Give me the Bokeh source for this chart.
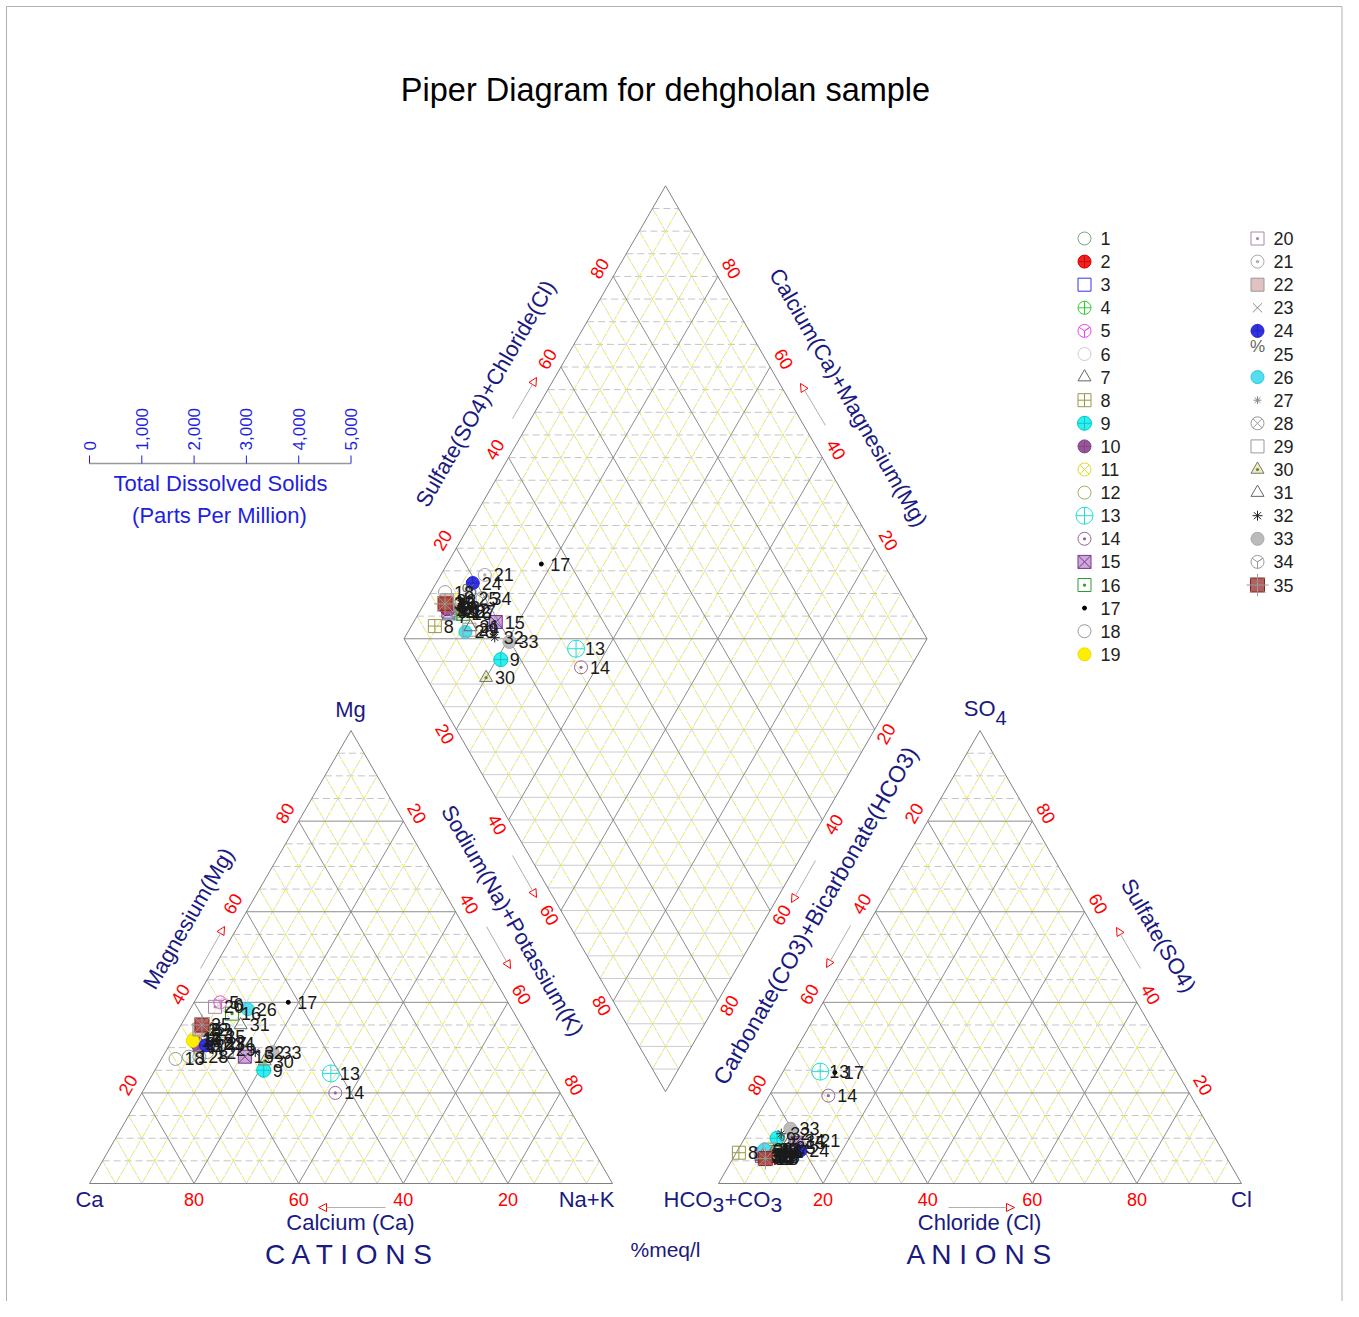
import math
from bokeh.plotting import figure
from bokeh.models import Range1d, Arrow, NormalHead, ColumnDataSource
from bokeh.core.properties import value
from bokeh.embed import file_html
from bokeh.resources import INLINE

# ---------------- data (percent meq/l) ----------------
sample_ids = [str(i) for i in range(1, 36)]
ca_pct = [67, 64, 62.5, 59.5, 55, 54.5, 64, 61.5, 54.2, 64, 64, 63, 41.7, 43, 56.3, 54, 42, 69.8,
          64.5, 56.5, 60.6, 62, 61.5, 62.5, 59.5, 50.5, 60, 65, 59, 53, 53.6, 53.8, 50.5, 58.5, 61]
mg_pct = [28, 31, 32, 33, 40, 39.5, 30, 34, 25, 30.5, 32, 29, 24.3, 20, 28, 37.5, 40, 27.5,
          31.5, 39, 31, 34, 33, 30.5, 32.5, 38.5, 31, 28, 29.5, 27, 35, 29, 29, 31, 35]
na_pct = [5, 5, 5.5, 7.5, 5, 6, 6, 4.5, 20.8, 5.5, 4, 8, 34, 37, 15.7, 8.5, 18, 2.7,
          4, 4.5, 8.4, 4, 5.5, 7, 8, 11, 9, 7, 11.5, 20, 11.4, 17.2, 20.5, 10.5, 4]
hco3_pct = [87.5, 88.5, 88.5, 87, 88, 87.5, 89, 92.7, 83.8, 88, 88, 86, 68.2, 69.3, 80.6, 86, 65.5, 87,
            88, 88, 77.5, 87.5, 87.5, 80.7, 83, 87.5, 85, 87, 86.5, 88.6, 86, 82.5, 80.2, 80.5, 88.3]
so4_pct = [6.5, 6, 6.5, 7, 7, 6, 5.5, 6.8, 10, 6, 5.5, 7.5, 24.7, 19.4, 9, 7, 24.5, 6.5,
           6, 6.5, 9.5, 6, 5.5, 7.3, 8, 7.5, 7, 6, 7.5, 6, 7, 11, 12.1, 9.5, 5.5]
cl_pct = [6, 5.5, 5, 6, 5, 6.5, 5.5, 0.5, 6.2, 6, 6.5, 6.5, 7.1, 11.3, 10.4, 7, 10, 6.5,
          6, 5.5, 13, 6.5, 7, 12, 9, 5, 8, 7, 6, 5.4, 7, 6.5, 7.7, 10, 6.2]
edge_ticks = [20, 40, 60, 80]
tds_ticks = [0, 1000, 2000, 3000, 4000, 5000]
tds_labels = ["0", "1,000", "2,000", "3,000", "4,000", "5,000"]

# ---------------- styles ----------------
mk = ["circle", "circle_cross", "square", "circle_cross", "circle_y", "circle", "triangle", "square_cross",
      "circle_cross", "circle_cross", "circle_x", "circle", "circle_cross", "circle_dot", "square_x",
      "square_dot", "circle", "circle", "circle", "square_dot", "circle_dot", "square", "x", "circle_cross",
      "circle", "circle", "asterisk", "circle_x", "square", "triangle_dot", "triangle", "asterisk", "circle",
      "circle_y", "square_x"]
lc = ["#77aa77", "#dd0000", "#3333ee", "#33cc33", "#ee44ee", "#cccccc", "#666666", "#999944", "#00cccc",
      "#884488", "#dddd33", "#aaaa66", "#22dddd", "#996699", "#773399", "#339933", "#000000", "#999999",
      "#eedd00", "#aa88aa", "#aaaaaa", "#999999", "#888888", "#2222cc", "#666666", "#22ccdd", "#888888",
      "#999999", "#999999", "#777777", "#666666", "#222222", "#aaaaaa", "#999999", "#882222"]
fc = ["white", "#ee2222", "white", "white", "white", "white", "white", "white", "#33eeee", "#995599",
      "white", "white", "white", "white", "#9955aa", "white", "#000000", "white", "#ffee00", "white",
      "white", "#cc9999", "white", "#3333dd", "white", "#55ddee", "white", "white", "white", "#dddd66",
      "white", "white", "#bbbbbb", "white", "#aa3333"]
fa = [0, 1, 0, 0, 0, 0, 0, 0, 1, 1, 0, 0, 0, 0, 0.5, 0, 1, 0, 1, 0, 0, 0.6, 0, 1, 0, 1, 0, 0, 0, 0.5,
      0, 0, 1, 0, 0.8]
sz = [13, 13, 13, 13, 13, 13, 13, 13, 14, 13, 13, 13, 17, 13, 13, 13, 4, 13, 13, 13, 13, 13, 13, 13,
      0, 13, 8, 13, 13, 13, 13, 10, 13, 13, 14]

FONT = value("Liberation Sans")
NAVY = "#1a1a80"
RED = "#ff0000"
BLUE = "#1f1fe0"

# ---------------- geometry (page pixels) ----------------
W, H = 1343, 1301
S = 523.0
HT = S * math.sqrt(3) / 2
cA, cB = (89.0, 1183.0), (612.0, 1183.0)
cC = ((cA[0] + cB[0]) / 2, 1183.0 - HT)
aA, aB = (718.0, 1183.0), (1241.0, 1183.0)
aC = ((aA[0] + aB[0]) / 2, 1183.0 - HT)
dD = ((cB[0] + aA[0]) / 2, 1183.0 - (aA[0] - cB[0]) * math.sqrt(3) / 2)
dL = (dD[0] - S / 2, dD[1] - HT)
dR = (dD[0] + S / 2, dD[1] - HT)
dT = (dD[0], dD[1] - 2 * HT)


def lerp(P, Q, t):
    return (P[0] + (Q[0] - P[0]) * t, P[1] + (Q[1] - P[1]) * t)


p = figure(width=W, height=H, output_backend="svg", toolbar_location=None,
           x_range=Range1d(0, W), y_range=Range1d(-H, 0), min_border=0)
p.axis.visible = False
p.grid.visible = False
p.outline_line_color = None
p.background_fill_color = "white"
p.line([6, 6, W - 1.5, W - 1.5], [-H, -6, -6, -H], line_color="#b0b0b0", line_width=1)

seg = {"major": ([], [], [], []), "hdash": ([], [], [], []), "hsolid": ([], [], [], []), "slant": ([], [], [], [])}


def add(kind, P, Q):
    s = seg[kind]
    s[0].append(P[0]); s[1].append(-P[1]); s[2].append(Q[0]); s[3].append(-Q[1])


def tri_grid(A, B, C):
    for k in range(5, 100, 5):
        t = k / 100
        major = k % 20 == 0
        add("major" if major else "hdash", lerp(A, C, t), lerp(B, C, t))
        add("major" if major else "slant", lerp(A, B, t), lerp(C, B, t))
        add("major" if major else "slant", lerp(B, A, t), lerp(C, A, t))


tri_grid(cA, cB, cC)
tri_grid(aA, aB, aC)
for k in range(5, 100, 5):
    t = k / 100
    major = k % 20 == 0
    add("major" if major else "slant", lerp(dL, dD, t), lerp(dT, dR, t))
    add("major" if major else "slant", lerp(dL, dT, t), lerp(dD, dR, t))
for j in range(1, 40):
    y = dT[1] + j * HT / 20
    hw = (S / 2) * (1 - abs(y - dL[1]) / HT)
    kind = "hdash" if j < 20 else ("major" if j == 20 else "hsolid")
    add(kind, (dD[0] - hw, y), (dD[0] + hw, y))

s = seg["hdash"]
p.segment(s[0], s[1], s[2], s[3], line_color="#c4c4c4", line_width=1, line_dash="7 4")
s = seg["hsolid"]
p.segment(s[0], s[1], s[2], s[3], line_color="#cccccc", line_width=1)
s = seg["slant"]
p.segment(s[0], s[1], s[2], s[3], line_color="#d8d8d8", line_width=1, line_dash="5 5")
p.segment(s[0], s[1], s[2], s[3], line_color="#eeee30", line_width=1, line_dash="4 6", line_dash_offset=5)
s = seg["major"]
p.segment(s[0], s[1], s[2], s[3], line_color="#8c8c8c", line_width=1)

for poly in ([cA, cB, cC, cA], [aA, aB, aC, aA], [dL, dT, dR, dD, dL]):
    p.line([q[0] for q in poly], [-q[1] for q in poly], line_color="#808080", line_width=1)


def txt(x, y, t, size, color, angle=0.0, align="center", baseline="middle"):
    p.text(x=[x], y=[-y], text=[t], text_font=FONT, text_font_size=size, text_color=color,
           angle=angle, text_align=align, text_baseline=baseline)


txt(665, 89, "Piper Diagram for dehgholan sample", "32.5px", "#000000")

off = 16
n_left = (-0.866 * off, -0.5 * off)
n_right = (0.866 * off, -0.5 * off)
A60 = math.pi / 3
for v in edge_ticks:
    t = v / 100
    txt(cA[0] + S * (100 - v) / 100, 1199, str(v), "18px", RED)
    txt(aA[0] + S * v / 100, 1199, str(v), "18px", RED)
    P = lerp(cA, cC, t); txt(P[0] + n_left[0], P[1] + n_left[1], str(v), "18px", RED, A60)
    P = lerp(cC, cB, t); txt(P[0] + n_right[0], P[1] + n_right[1], str(v), "18px", RED, -A60)
    P = lerp(aC, aA, t); txt(P[0] + n_left[0], P[1] + n_left[1], str(v), "18px", RED, A60)
    P = lerp(aB, aC, t); txt(P[0] + n_right[0], P[1] + n_right[1], str(v), "18px", RED, -A60)
    P = lerp(dL, dT, t); txt(P[0] + n_left[0], P[1] + n_left[1], str(v), "18px", RED, A60)
    P = lerp(dR, dT, t); txt(P[0] + n_right[0], P[1] + n_right[1], str(v), "18px", RED, -A60)
    P = lerp(dL, dD, t); txt(P[0] - 0.866 * 13, P[1] + 0.5 * 9, str(v), "18px", RED, -A60)
    P = lerp(dR, dD, t); txt(P[0] + 0.866 * 13, P[1] + 0.5 * 9, str(v), "18px", RED, A60)

txt(188, 918, "Magnesium(Mg)", "22px", NAVY, A60)
txt(512, 920, "Sodium(Na)+Potassium(K)", "22px", NAVY, -A60)
txt(485, 393, "Sulfate(SO4)+Chloride(Cl)", "22px", NAVY, A60)
txt(848, 397, "Calcium(Ca)+Magnesium(Mg)", "22px", NAVY, -A60)
txt(815, 915, "Carbonate(CO3)+Bicarbonate(HCO3)", "23px", NAVY, A60)
txt(1158, 935, "Sulfate(SO4)", "22px", NAVY, -A60)
txt(350, 1222, "Calcium (Ca)", "22px", NAVY)
txt(979, 1222, "Chloride (Cl)", "22px", NAVY)
txt(350, 1254, "C A T I O N S", "28px", NAVY)
txt(979, 1254, "A N I O N S", "28px", NAVY)
txt(665, 1249, "%meq/l", "21px", NAVY)
txt(350, 709, "Mg", "22px", NAVY)
txt(995, 708, "SO", "22px", NAVY, align="right")
txt(995, 717, "4", "20px", NAVY, align="left")
txt(89, 1199, "Ca", "22px", NAVY)
txt(586, 1199, "Na+K", "22px", NAVY)
txt(1241, 1199, "Cl", "22px", NAVY)
txt(663, 1199, "HCO", "22px", NAVY, align="left")
txt(712, 1204, "3", "21px", NAVY, align="left")
txt(724, 1199, "+CO", "22px", NAVY, align="left")
txt(770, 1204, "3", "21px", NAVY, align="left")

arrows = [((385, 1207), (318, 1207)), ((948, 1207), (1014, 1207)),
          ((200, 968), (224, 926)), ((512, 855), (536, 897)), ((486, 926), (510, 968)),
          ((512, 418), (536, 377)), ((825, 425), (800, 383)), ((815, 860), (791, 902)),
          ((850, 925), (826, 967)), ((1140, 968), (1116, 927))]
for (s0, e0) in arrows:
    p.add_layout(Arrow(end=NormalHead(size=8, fill_color="white", line_color=RED, line_width=1),
                       x_start=s0[0], y_start=-s0[1], x_end=e0[0], y_end=-e0[1],
                       line_color="#b0b0b0", line_width=1))

tx0, ty0, tw = 89.0, 463.0, S / 2
p.line([tx0, tx0 + tw], [-ty0, -ty0], line_color="#999999", line_width=1.5)
tx = [tx0 + tw * v / tds_ticks[-1] for v in tds_ticks]
p.segment(tx, [-ty0] * len(tx), tx, [-(ty0 - 8)] * len(tx), line_color=BLUE, line_width=1)
p.text(x=tx, y=[-(ty0 - 13)] * len(tx), text=tds_labels, text_font=FONT, text_font_size="17px",
       text_color=BLUE, angle=math.pi / 2, text_align="left", text_baseline="middle")
txt(220, 483, "Total Dissolved Solids", "22px", BLUE)
txt(219, 515, "(Parts Per Million)", "22px", BLUE)

xs, ys, lab = [], [], []
pm, pl, pf, pa, ps = [], [], [], [], []
pct_x, pct_y = [], []
for i in range(len(sample_ids)):
    tc = ca_pct[i] + mg_pct[i] + na_pct[i]
    ta = hco3_pct[i] + so4_pct[i] + cl_pct[i]
    mg, na = mg_pct[i] / tc, na_pct[i] / tc
    so4, cl = so4_pct[i] / ta, cl_pct[i] / ta
    pts = [
        (cA[0] + S * (na + mg / 2), cA[1] - HT * mg),
        (dL[0] + (S / 2) * (na + so4 + cl), dL[1] + HT * (na - so4 - cl)),
        (aA[0] + S * (cl + so4 / 2), aA[1] - HT * so4),
    ]
    for (x, y) in pts:
        xs.append(x); ys.append(-y); lab.append(sample_ids[i])
        pm.append(mk[i]); pl.append(lc[i]); pf.append(fc[i]); pa.append(fa[i]); ps.append(sz[i])
        if sz[i] == 0:
            pct_x.append(x); pct_y.append(-y)

lx, ly = [], []
for i in range(len(sample_ids)):
    col, row = (0, i) if i < 19 else (1, i - 19)
    x = 1084 + 173 * col
    y = 238 + 23.1 * row
    lx.append(x); ly.append(-y)
    pm.append(mk[i]); pl.append(lc[i]); pf.append(fc[i]); pa.append(fa[i]); ps.append(sz[i])
    if sz[i] == 0:
        pct_x.append(x); pct_y.append(-y)

src = ColumnDataSource(dict(x=xs + lx, y=ys + ly, marker=pm, lc=pl, fc=pf, fa=pa, size=ps))
p.scatter(x="x", y="y", marker="marker", size="size", line_color="lc", fill_color="fc",
          fill_alpha="fa", line_width=1, source=src)
i35 = sample_ids.index("35")
ox = [xs[3 * i35 + k] for k in range(3)] + [lx[i35]]
oy = [ys[3 * i35 + k] for k in range(3)] + [ly[i35]]
p.scatter(ox, oy, marker="asterisk", size=22, line_color="#999999", line_width=1)
p.text(x=pct_x, y=[v + 8 for v in pct_y], text=["%"] * len(pct_x), text_font=FONT,
       text_font_size="17px", text_color="#666666", text_align="center", text_baseline="middle")

p.text(x=xs, y=ys, text=lab, text_font=FONT, text_font_size="18px", text_color="#1a1a1a",
       text_align="left", text_baseline="middle", x_offset=9)
p.text(x=lx, y=ly, text=sample_ids, text_font=FONT, text_font_size="18px", text_color="#222222",
       text_align="left", text_baseline="middle", x_offset=16)

open("out.html", "w").write(file_html(p, INLINE))
